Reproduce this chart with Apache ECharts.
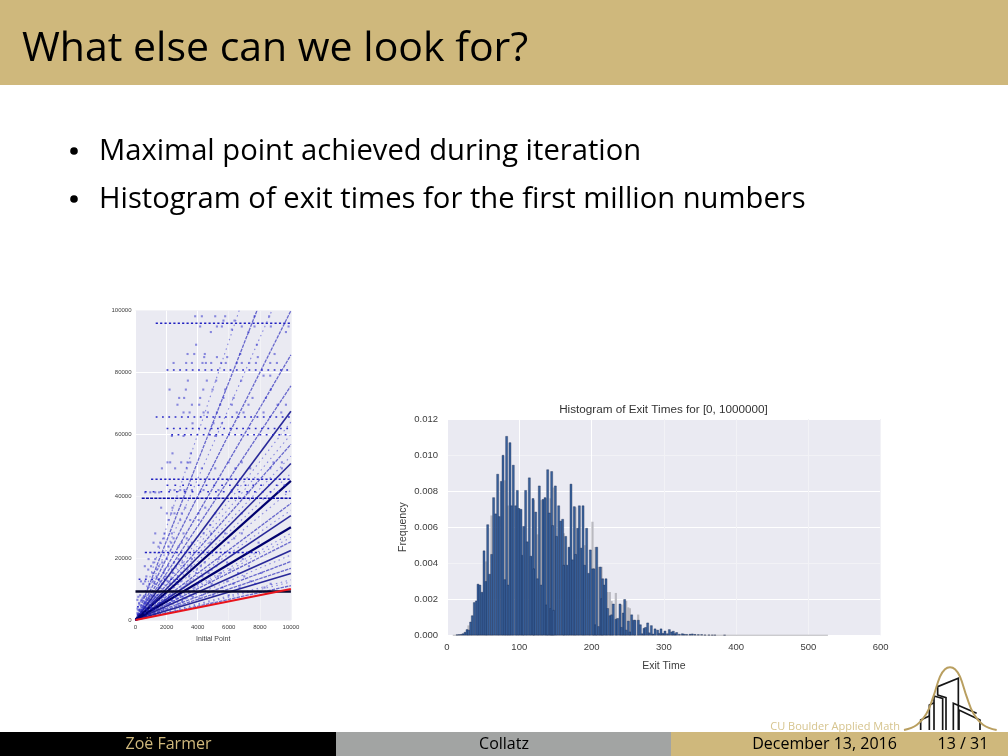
<!DOCTYPE html>
<html><head><meta charset="utf-8">
<style>html,body{margin:0;padding:0;background:#fff}#c{width:1008px;height:756px}</style>
<script src="https://cdn.jsdelivr.net/npm/echarts@6/dist/echarts.min.js"></script>
</head><body><div id="c"></div>
<script>
// ---------- left chart data ----------
const heavyRays = [45000, 30000];
const mediumRays = [67500, 22500, 15000, 33750, 50600];
const lightRays = [128000, 100000, 85700, 75700, 56800, 37700, 25300, 18900, 16700, 11100];
const dottedRays = [114000, 150000, 64000, 42000, 28000, 13000, 12300, 21000, 26700, 35500, 47400, 53000, 60000];
const identityLine = [10000];
const heavyBandY = [9232];
const denseBandY = [39364], denseBandX = [400];
const midBandY = [95956, 45500, 21800], midBandX = [1300, 1000, 600];
const sparseBandY = [80800, 65600, 61900, 59900, 43600, 41500, 13200, 4300];
const sparseBandX = [2000, 1300, 2000, 2300, 2000, 600, 200, 100];
const sparseBandEnd = [10000, 10000, 10000, 10000, 10000, 10000, 3000, 1200];
const scatterRows = [
 [98200,[3840,5130,5770,7660,4270,8600]],[96800,[5660,6370]],
 [94900,[4160,5240,5560,6840,7660,8710,9850]],[93900,[6200]],[93100,[4850,7270,9680]],
 [89000,[3900,7810]],[86000,[3350,3780,4460,6740,8950]],[85000,[4420,5240,5900,7870]],
 [83100,[2450,3260,3630,4310,4530,4870,5510,5810,6520,6840,7320,7750,8670,9100]],
 [79000,[8240,8670]],[77400,[3370,4590,5190,6800]],[74500,[2190,3240,4360,4960,5770,8710]],
 [71800,[2810,3130,4160,5660,6310,7530,8390]],[69600,[2700,3630,4100,5450,6200,7270,9140,9680]],
 [67100,[3090,3480,4380,4660,5240,6520,6950,8240,9380]],[63600,[5560,3670,5020]],
 [59500,[2340,3090,5130]],[53880,[2380,3560]],[50970,[2060,2230,2940,3350,3520,5990,6840,8880,9420]],
 [49030,[1700,2550,3300,4270,5130,6420,7380,8670,9420]],[42020,[2230,2510,2880,3150,3630,4380,5340,6200]],
 [41270,[620,950,1270,1520,7270]],[36310,[1650,2380,3200,4490]],[34480,[5130,6840,2020,2300,2510,2980,4060]],
 [32320,[2130,2880,3520,4060]],[30700,[4810]],[28000,[1270,1870,2340,3090,4380,4870,5770,6840]],
 [26400,[1820,2450,3300,5200,6350]],[25000,[1160,1590,2300,2980,3630,4810,5990,7920]],[23700,[1480,2130,2770,3410]],
 [19700,[840,1270,2020,2770,3630,5340,6900]],[18600,[1150,1720,2480,3020,4450,5900]],
 [17400,[600,1000,1500,2100,2600,3100,3600,4200,5200,7300]],[16300,[820,1380,1880,2350,3350,3950,4900,6100]],
 [15200,[1100,1800,2400,3000,3900,4700,5500,6600,8100]],[14100,[700,1350,1950,2750,3450,4300,5300,7000]],
 [12500,[350,620,1120,1580,2050,2480,2900,3550,4150,4750,5900,7400]],
 [11700,[500,900,1250,1700,2200,2650,3300,4000,4900,6300,7700,8700]],[10500,[800,1500,2400,3100,3800,5600,6700,8300]],
 [8000,[300,650,1050,1400,1900,2300,2900,3500,4300,5000,6000]],[7500,[180,520,880,1270,1780,2180,2560,3050,3700]],
 [7000,[450,850,1200,1650,2100,2700,3200,4100]],[6500,[120,380,720,1120,1480,1920,2350]],
 [6000,[350,700,950,1300,1750,2500,3000]],[5500,[230,600,830,1210,1560,2230]],[5000,[250,550,1000,1450,2050,2700]],
 [3700,[130,410,680,990,1310,1820]],[3200,[180,450,750,1150,1600]],[2200,[120,320,600,900]]
];
// ---------- right chart data ----------
const exitTimes = [13.8,16.6,19.4,22.1,24.9,27.7,30,32.7,35,37.8,40.6,42.9,45.6,48.4,51.2,54,56.3,59,61.8,64.5,67.3,70.1,72.4,75.2,77.5,80.2,82.5,84.8,87.1,89.4,91.7,
 95,97.3,99.6,102.4,104.7,106.1,108.8,111.1,113.9,116.2,119,120.4,122.7,125.4,127.7,130.5,132.8,135.6,137.9,139.3,141.6,143.4,144.8,146.2,147.6,149.9,151.7,154.5,157.2,160,161.8,164.2,166.5,168.8,171.5,173.8,176.1,
 178,180.8,183.1,185.9,188.2,190.5,193.2,196,198.3,201.5,203.4,205.7,207.1,209.8,212.1,214,215.4,217.7,220,222.3,225.5,227.8,230.1,233.8,236.1,239.3,241.6,243.9,245.8,248.1,250.9,253.2,255.5,258.2,
 260.1,264.7,267.5,270.2,272.5,274.8,277.6,279.9,282.7,285,287.8,291.4,293.8,296.1,298.8,301.6,304.8,307.6,310.8,313.1,315.4,317.7,321.4,325.6,328.3,331.6,336.2,339.4,343.1,347.7,352.3,356.9,362.4,367,370.7,384];
const frequency = [.04,.05,.06,.1,.18,.33,.3,.75,1.1,1.83,1.92,2.85,2.8,2.4,4.7,3,6.15,3.4,4.5,7.65,6.75,8.95,6.6,8.55,10,3.1,11.05,2.8,10.7,7.2,9.45,
 7.2,8.05,7.05,7,4.45,6.05,8.05,5.2,8.75,4.4,7.6,3.7,6.85,3.15,8.3,2.8,7.55,7.65,1.7,9.2,6.8,1.5,9.1,6.1,1.4,8.3,5.5,7.2,6.35,6.45,3.9,5.5,3.9,4.9,8.4,4.2,7.15,
 4.5,5.95,7.2,4.85,7.2,3.9,5.95,3.45,4.75,3.7,3.7,.6,4.9,.5,3.8,2.05,3.15,2.8,3.15,1.5,1.1,1.15,1.75,.9,.95,1.75,.45,1.25,2,.3,.8,.2,1.15,.85,
 .85,.85,.6,.1,.4,.45,.7,.15,.55,.08,.37,.3,.12,.37,.12,.25,.1,.33,.2,.24,.1,.17,.07,.1,.07,.06,.07,.09,.06,.05,.05,.03,.03,.02,.02,.015];
const shadowTimes = [30,54,61.8,80.2,84.8,120.4,125.4,130.5,137.9,143.4,147.6,161.8,178,190.5,201.5,205.7,209.8,214,222.3,225.5,227.8,233.8,241.6,248.1,250.9,253.2,264.7];
const shadowFreq = [.55,4.1,6.65,8.6,7.2,7.5,5.6,7.5,7.6,7.6,8.2,5.66,7.1,5,6.3,4.9,3.8,3.8,2.4,2.4,1.9,2.35,1.7,1.9,1.55,1.5,1.15];
const baselineTimes = [8, 527];
const xTicksLeft = {min:0,max:10000,step:2000}, yTicksLeft = {min:0,max:100000,step:20000};

const BLUE='rgba(34,34,200,0.62)';
function ray(end, color, width, type, opacity){
  return {type:'line',xAxisIndex:0,yAxisIndex:0,data:[[0,0],[10000,end]],showSymbol:false,silent:true,
    lineStyle:{color,width,type:type||'solid',opacity:opacity==null?1:opacity},z:3};
}
function band(y,x0,x1,color,width,type,z){
  return {type:'line',xAxisIndex:0,yAxisIndex:0,data:[[x0,y],[x1,y]],showSymbol:false,silent:true,
    lineStyle:{color,width,type},z:z||3};
}
const series=[];
dottedRays.forEach(v=>series.push(ray(v,'#3434d0',1.1,[1.5,3.5],.55)));
lightRays.forEach(v=>series.push(ray(v,'#2222b8',1.3,[3.5,1],.65)));
mediumRays.forEach(v=>series.push(ray(v,'#14148f',1.6,'solid',.9)));
heavyRays.forEach(v=>series.push(ray(v,'#00006e',2.2)));
sparseBandY.forEach((y,i)=>series.push(band(y,sparseBandX[i],sparseBandEnd[i],'#2c2cc8',1.5,[1.8,y===43600||y===41500?6:4.5])));
midBandY.forEach((y,i)=>series.push(band(y,midBandX[i],y===21800?8000:10000,'#2020c0',1.5,[2.2,2.2])));
denseBandY.forEach((y,i)=>series.push(band(y,denseBandX[i],10000,'#0c0ca8',1.7,[3,1.2])));
heavyBandY.forEach(y=>series.push(band(y,0,10000,'#08082e',2.4,'solid',4)));
const pts=[]; scatterRows.forEach(r=>r[1].forEach(x=>pts.push([x,r[0]])));
series.push({type:'scatter',xAxisIndex:0,yAxisIndex:0,data:pts,symbol:'rect',symbolSize:2.1,silent:true,itemStyle:{color:BLUE},z:3});
series.push(ray(identityLine[0],'#e8141c',2,'solid',1)); series[series.length-1].z=6;

const gray=shadowTimes.map((t,i)=>[t,shadowFreq[i]/1000]);
const blue=exitTimes.map((t,i)=>[t,frequency[i]/1000]);
series.push({type:'line',xAxisIndex:1,yAxisIndex:1,data:baselineTimes.map(t=>[t,0]),showSymbol:false,silent:true,lineStyle:{color:'#a8a8ae',width:1},z:2});
series.push({type:'bar',xAxisIndex:1,yAxisIndex:1,data:gray,barWidth:2.2,barGap:'-100%',silent:true,itemStyle:{color:'#b9b9c0'},z:2});
series.push({type:'bar',xAxisIndex:1,yAxisIndex:1,data:blue,barWidth:2.5,barGap:'-100%',silent:true,itemStyle:{color:'#3a639e',borderColor:'rgba(18,32,70,0.7)',borderWidth:.5},z:3});

const F='Liberation Sans';
const axisBase=(size,col,margin)=>({type:'value',axisLine:{show:false},axisTick:{show:false},
  axisLabel:{color:'#3c3c3c',fontFamily:F,fontSize:size,margin},nameTextStyle:{color:'#3c3c3c',fontFamily:F,fontSize:size},
  nameLocation:'middle',splitLine:{show:true,lineStyle:{color:col,width:1}}});
const W='#ffffff',S='#f2f2f6';
const xA0=Object.assign(axisBase(6,[W,W,W,S,S,S],4),{gridIndex:0,min:xTicksLeft.min,max:xTicksLeft.max,interval:xTicksLeft.step,name:'Initial Point',nameGap:16});
xA0.axisLabel.formatter=v=>String(v); xA0.nameTextStyle.fontSize=7;
const yA0=Object.assign(axisBase(6,[S,S,S,W,W,S],4),{gridIndex:0,min:yTicksLeft.min,max:yTicksLeft.max,interval:yTicksLeft.step});
yA0.axisLabel.formatter=v=>String(v);
const xA1=Object.assign(axisBase(9.5,[W,W,W,S,S,S,S],7),{gridIndex:1,min:0,max:600,interval:100,name:'Exit Time',nameGap:25});
xA1.axisLabel.formatter=v=>String(v); xA1.nameTextStyle.fontSize=10.5;
const yA1=Object.assign(axisBase(9.5,[W,W,S,W,W,S,W],9),{gridIndex:1,min:0,max:0.012,interval:0.002,name:'Frequency',nameGap:38});
yA1.axisLabel.formatter=v=>v.toFixed(3); yA1.nameTextStyle.fontSize=10.5;

const SANS='Open Sans';
function txt(t,x,y,size,color,align){return {type:'text',x,y,z:20,silent:true,style:{text:t,fontFamily:SANS,fontSize:size,fill:color,align:align||'left',verticalAlign:'middle'}};}
function dot(cx,cy){return {type:'circle',shape:{cx,cy,r:3.8},style:{fill:'#000'},z:20,silent:true};}
const GOLD='#CFB87C';
const logo={type:'group',x:760,y:660,scaleX:1/3,scaleY:1/3,z:15,silent:true,children:[
  [[482,210],[482,180],[508,168]],[[508,210],[508,135],[522,128]],[[522,210],[522,108],[548,115],[548,210]],
  [[558,210],[558,113],[533,105],[533,80],[595,55],[595,210]],[[580,210],[580,130],[650,160]],[[597,210],[597,150],[660,180],[660,210]]
 ].map(p=>({type:'polyline',shape:{points:p},style:{stroke:'#161616',lineWidth:5,fill:null}})).concat([
  {type:'polyline',shape:{points:[[432,210],[470,195],[500,160],[520,110],[540,50],[555,28],[570,22],[585,28],[600,50],[620,110],[640,160],[670,195],[710,210]],smooth:.4},style:{stroke:'#B99F60',lineWidth:6,fill:null}}
 ])};
const graphic=[
 {type:'rect',shape:{x:0,y:0,width:1008,height:85},style:{fill:GOLD},z:1,silent:true},
 {type:'rect',shape:{x:0,y:732,width:336,height:24},style:{fill:'#000'},z:1,silent:true},
 {type:'rect',shape:{x:336,y:732,width:335,height:24},style:{fill:'#A2A4A3'},z:1,silent:true},
 {type:'rect',shape:{x:671,y:732,width:337,height:24},style:{fill:GOLD},z:1,silent:true},
 txt('What else can we look for?',22,49,41,'#000'),
 dot(74,151),txt('Maximal point achieved during iteration',99,152,29.2,'#000'),
 dot(74,199),txt('Histogram of exit times for the first million numbers',99,200,29.2,'#000'),
 txt('Zoë Farmer',168.5,744,16,GOLD,'center'),txt('Collatz',504,744,16,'#000','center'),
 txt('December 13, 2016',824.5,744,16,'#000','center'),txt('13 / 31',963,744,16,'#000','center'),
 txt('CU Boulder Applied Math',900,727,11,'#D6C48E','right'),
 logo,
 {type:'text',x:663.5,y:410,z:20,silent:true,style:{text:'Histogram of Exit Times for [0, 1000000]',fontFamily:F,fontSize:11.7,fill:'#333',align:'center',verticalAlign:'middle'}}
];
const chart=echarts.init(document.getElementById('c'),null,{renderer:'canvas'});
chart.setOption({animation:false,backgroundColor:'#fff',graphic,
 grid:[{left:135.5,top:310.7,width:155.4,height:309.3,backgroundColor:'#EAEAF2',show:true,borderWidth:0},
       {left:447,top:419,width:433.7,height:216.3,backgroundColor:'#EAEAF2',show:true,borderWidth:0}],
 xAxis:[xA0,xA1],yAxis:[yA0,yA1],series});
</script></body></html>
